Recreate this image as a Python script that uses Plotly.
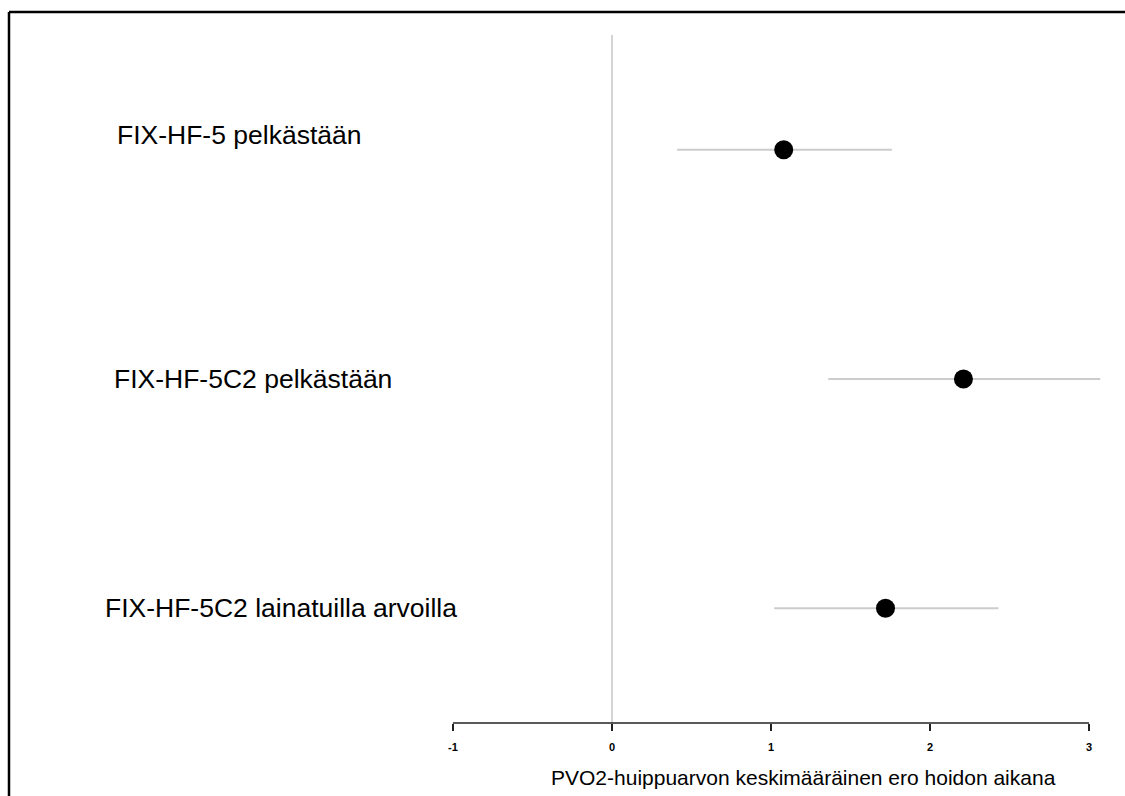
import plotly.graph_objects as go

labels = ["FIX-HF-5 pelkästään", "FIX-HF-5C2 pelkästään", "FIX-HF-5C2 lainatuilla arvoilla"]
means = [1.08, 2.21, 1.72]
lower = [0.41, 1.36, 1.02]
upper = [1.76, 3.07, 2.43]
ypos = [3, 2, 1]
label_x = [239, 253, 281]      # label centre, pixels
label_shift = [15, 0, 0]
tickvals = [-1, 0, 1, 2, 3]
xtitle = "PVO2-huippuarvon keskimääräinen ero hoidon aikana"

W, H = 1125, 796
L, R, T, B = 437, 20, 35, 73
pw = W - L - R
ph = H - T - B

def px(x):
    return (x - L) / pw

def py(y):
    return (H - B - y) / ph

fig = go.Figure()
fig.add_trace(go.Scatter(
    x=means, y=ypos, mode="markers",
    marker=dict(color="black", size=19, symbol="circle"),
    error_x=dict(type="data", symmetric=False,
                 array=[u - m for u, m in zip(upper, means)],
                 arrayminus=[m - l for m, l in zip(means, lower)],
                 color="#cccccc", thickness=2, width=0),
    showlegend=False, cliponaxis=False,
))

for lab, lx, ys, yv in zip(labels, label_x, label_shift, ypos):
    fig.add_annotation(x=px(lx), xref="paper", y=yv, yref="y", text=lab,
                       showarrow=False, xanchor="center", yanchor="middle",
                       yshift=ys, font=dict(family="Liberation Sans, Arial", size=26.5, color="black"))

fig.add_annotation(x=px(803), xref="paper", y=py(777), yref="paper", text=xtitle,
                   showarrow=False, xanchor="center", yanchor="middle",
                   font=dict(family="Liberation Sans, Arial", size=21, color="black"))

# axis line from -1 to 3
fig.add_shape(type="line", x0=tickvals[0], x1=tickvals[-1], xref="x", y0=0, y1=0, yref="paper",
              line=dict(color="#222222", width=1.5))
# outer border (top and left)
fig.add_shape(type="line", x0=px(9), x1=px(1130), y0=py(12), y1=py(12), xref="paper", yref="paper",
              line=dict(color="black", width=2.5))
fig.add_shape(type="line", x0=px(9), x1=px(9), y0=py(12), y1=py(800), xref="paper", yref="paper",
              line=dict(color="black", width=2.5))

fig.update_layout(
    width=W, height=H, margin=dict(l=L, r=R, t=T, b=B, pad=0),
    plot_bgcolor="white", paper_bgcolor="white",
    xaxis=dict(range=[-1.1, 3.1], tickvals=tickvals, ticktext=[str(v) for v in tickvals],
               ticks="outside", ticklen=7, tickwidth=1.5, tickcolor="#222222",
               ticklabelstandoff=7,
               showgrid=False, showline=False, zeroline=True,
               zerolinecolor="#d4d4d4", zerolinewidth=1.5,
               tickfont=dict(family="Liberation Sans, Arial", size=11, color="black", weight="bold")),
    yaxis=dict(range=[0.5, 3.5], showticklabels=False, showgrid=False, zeroline=False,
               showline=False, ticks=""),
)

fig.write_html("out.html", config={"displayModeBar": False},
               post_script="document.body.style.margin='0';document.body.style.overflow='hidden';")
